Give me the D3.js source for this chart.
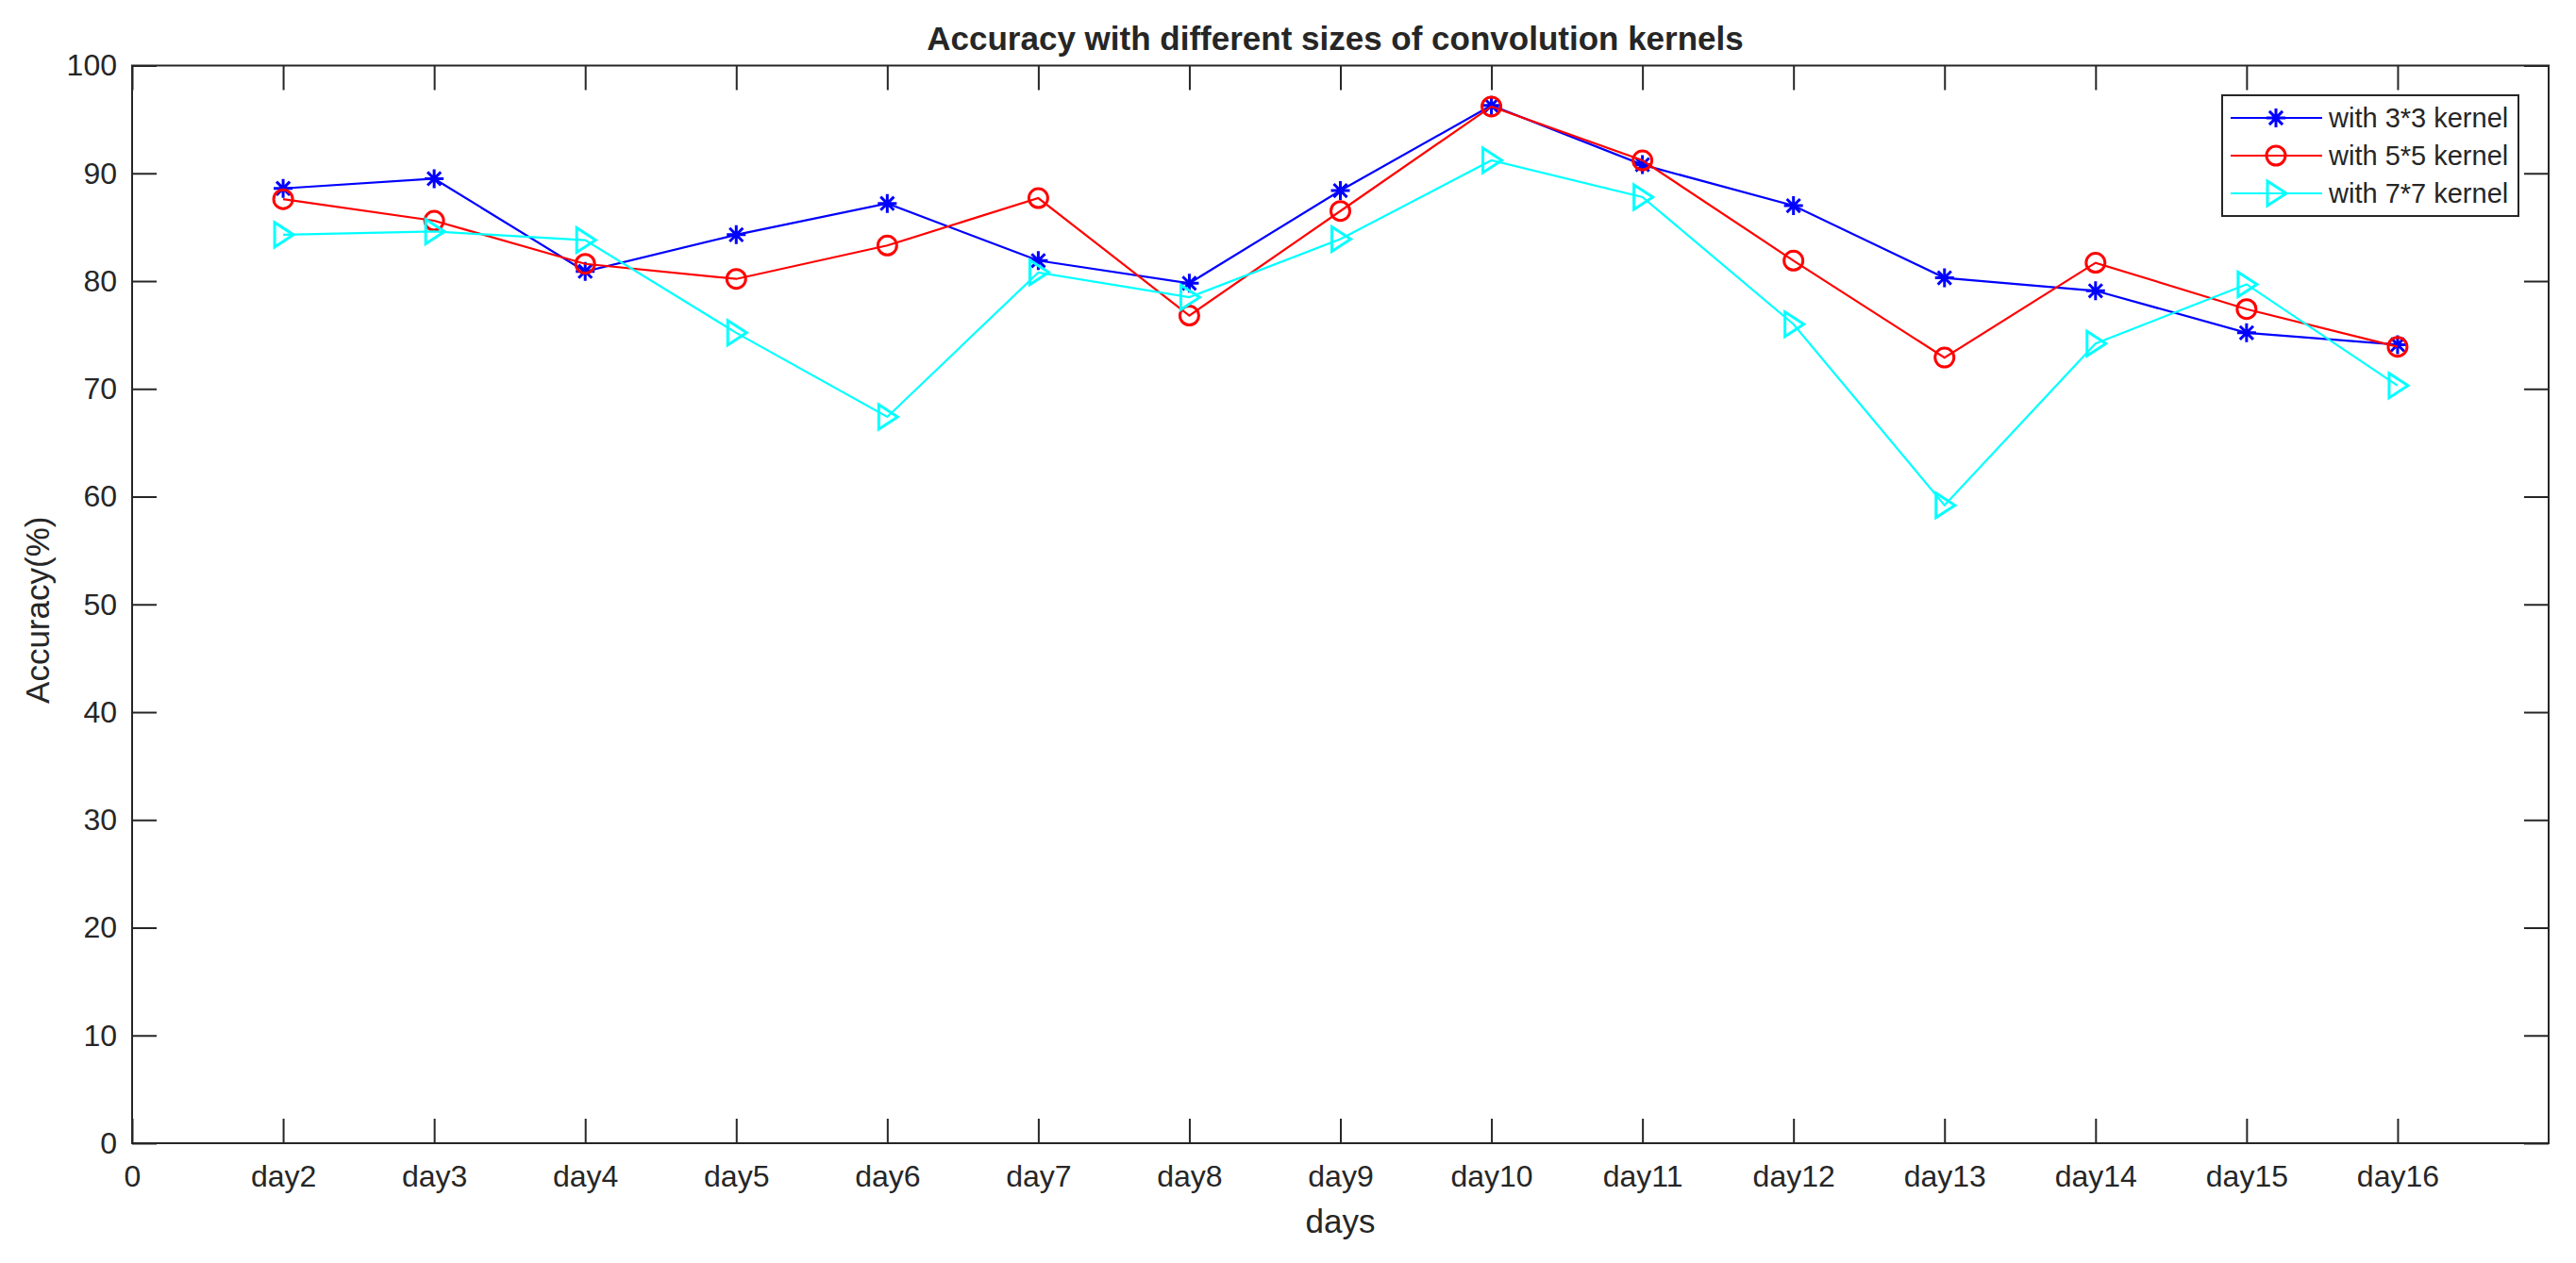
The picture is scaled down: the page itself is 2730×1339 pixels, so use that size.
<!DOCTYPE html>
<html>
<head>
<meta charset="utf-8">
<script src="https://cdn.jsdelivr.net/npm/d3@7"></script>
<style>
  html, body { margin: 0; padding: 0; background: #fff; }
  svg { display: block; }
  text { font-family: "Liberation Sans", Arial, Helvetica, sans-serif; fill: #262626; }
</style>
</head>
<body>
<script>
// ---------- data ----------
const categories = ["day2","day3","day4","day5","day6","day7","day8","day9","day10","day11","day12","day13","day14","day15","day16"];
const xTickLabels = ["0"].concat(categories);
const yTicks = [0,10,20,30,40,50,60,70,80,90,100];
const seriesNames = ["with 3*3 kernel","with 5*5 kernel","with 7*7 kernel"];
const kernel3 = [88.6,89.5,80.9,84.3,87.2,81.9,79.8,88.4,96.3,90.8,87.0,80.3,79.1,75.2,74.1];
const kernel5 = [87.6,85.6,81.6,80.2,83.3,87.7,76.8,86.5,96.2,91.2,81.9,72.9,81.7,77.4,73.9];
const kernel7 = [84.3,84.6,83.8,75.2,67.4,80.8,78.5,83.9,91.2,87.8,76.0,59.2,74.2,79.7,70.3];
const seriesColors = ["#0000ff","#ff0000","#00ffff"];
const seriesMarkers = ["star","circle","triangle"];

// ---------- layout ----------
const W = 2730, H = 1339;
const M = {left: 140, right: 2701, top: 69.5, bottom: 1212};
const ink = "#262626";

const svg = d3.select("body").append("svg").attr("width", W).attr("height", H);

const x = d3.scaleLinear().domain([0, 16]).range([M.left, M.right]);
const y = d3.scaleLinear().domain([0, 100]).range([M.bottom, M.top]);

// axes
const xTickVals = d3.range(0, 16);
const gx = svg.append("g").attr("transform", `translate(0,${M.bottom})`)
  .call(d3.axisBottom(x).tickValues(xTickVals).tickFormat((d,i) => xTickLabels[i])
        .tickSizeInner(-26).tickSizeOuter(0).tickPadding(23));
const gxt = svg.append("g").attr("transform", `translate(0,${M.top})`)
  .call(d3.axisTop(x).tickValues(xTickVals).tickFormat("").tickSizeInner(-26).tickSizeOuter(0));
const gy = svg.append("g").attr("transform", `translate(${M.left},0)`)
  .call(d3.axisLeft(y).tickValues(yTicks).tickFormat(d3.format("d"))
        .tickSizeInner(-26).tickSizeOuter(0).tickPadding(16));
const gyr = svg.append("g").attr("transform", `translate(${M.right},0)`)
  .call(d3.axisRight(y).tickValues(yTicks).tickFormat("").tickSizeInner(-26).tickSizeOuter(0));

[gx, gxt, gy, gyr].forEach(g => {
  g.select(".domain").remove();
  g.selectAll(".tick line").attr("stroke", ink).attr("stroke-width", 2);
  g.selectAll(".tick text").attr("fill", ink).style("font-size", "32px")
    .style("font-family", '"Liberation Sans", Arial, sans-serif');
});

// box
svg.append("rect").attr("x", M.left).attr("y", M.top)
  .attr("width", M.right - M.left).attr("height", M.bottom - M.top)
  .attr("fill", "none").attr("stroke", ink).attr("stroke-width", 2);

// titles
svg.append("text").attr("x", 1415).attr("y", 53)
  .attr("text-anchor", "middle").style("font-size", "35px").style("font-weight", "bold")
  .attr("fill", "#000")
  .text("Accuracy with different sizes of convolution kernels");
svg.append("text").attr("x", (M.left + M.right) / 2).attr("y", 1307)
  .attr("text-anchor", "middle").style("font-size", "35px").text("days");
svg.append("text")
  .attr("transform", `translate(${52},${(M.top + M.bottom) / 2 + 6}) rotate(-90)`)
  .attr("text-anchor", "middle").style("font-size", "35px").text("Accuracy(%)");

// markers
function drawMarker(g, type, cx, cy, color) {
  if (type === "star") {
    const r = 10, d = r * 0.707;
    const p = `M${cx - r},${cy}L${cx + r},${cy}M${cx},${cy - r}L${cx},${cy + r}` +
              `M${cx - d},${cy - d}L${cx + d},${cy + d}M${cx - d},${cy + d}L${cx + d},${cy - d}`;
    g.append("path").attr("d", p).attr("stroke", color).attr("stroke-width", 3).attr("fill", "none");
  } else if (type === "circle") {
    g.append("circle").attr("cx", cx).attr("cy", cy).attr("r", 10)
      .attr("stroke", color).attr("stroke-width", 3).attr("fill", "none");
  } else {
    const p = `M${cx - 9},${cy - 13}L${cx + 11},${cy}L${cx - 9},${cy + 13}Z`;
    g.append("path").attr("d", p).attr("stroke", color).attr("stroke-width", 3).attr("fill", "none");
  }
}

const allSeries = [kernel3, kernel5, kernel7];
const line = d3.line().x((d, i) => x(i + 1)).y(d => y(d));

allSeries.forEach((vals, si) => {
  const g = svg.append("g");
  g.append("path").datum(vals).attr("d", line)
    .attr("fill", "none").attr("stroke", seriesColors[si]).attr("stroke-width", 2.2);
  vals.forEach((v, i) => drawMarker(g, seriesMarkers[si], x(i + 1), y(v), seriesColors[si]));
});

// legend
const lg = svg.append("g");
lg.append("rect").attr("x", 2355).attr("y", 101).attr("width", 314).attr("height", 128)
  .attr("fill", "#fff").attr("stroke", ink).attr("stroke-width", 2);
seriesNames.forEach((name, i) => {
  const ly = 125 + i * 40;
  lg.append("line").attr("x1", 2364).attr("x2", 2461).attr("y1", ly).attr("y2", ly)
    .attr("stroke", seriesColors[i]).attr("stroke-width", 2.2);
  drawMarker(lg, seriesMarkers[i], 2412, ly, seriesColors[i]);
  lg.append("text").attr("x", 2468).attr("y", ly + 10).style("font-size", "29px")
    .attr("fill", "#000").text(name);
});
</script>
</body>
</html>
